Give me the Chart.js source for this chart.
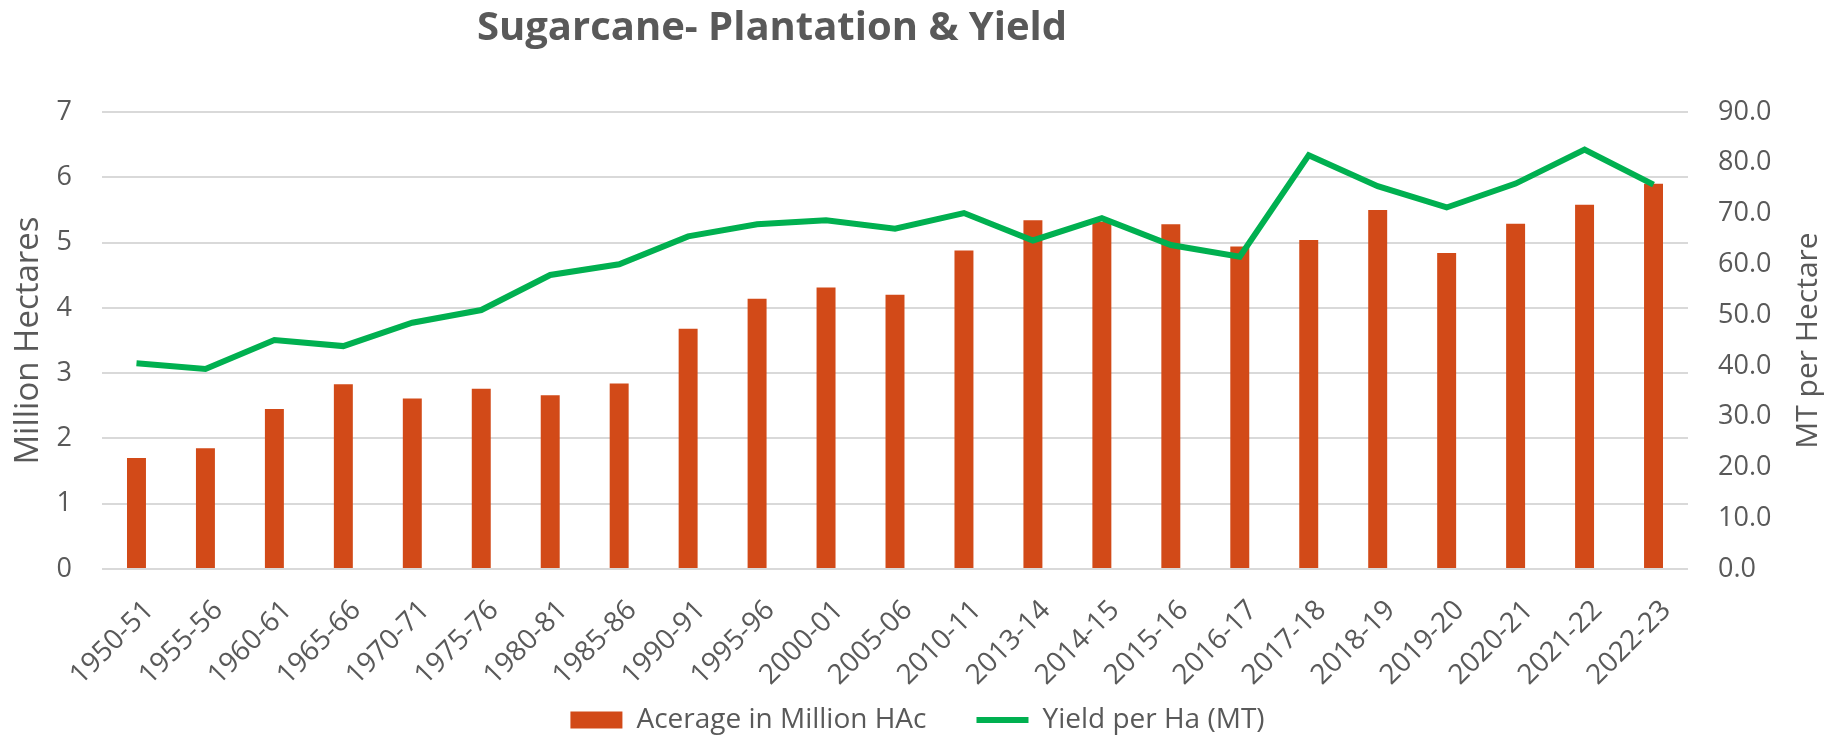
<!DOCTYPE html>
<html>
<head>
<meta charset="utf-8">
<script src="https://cdn.jsdelivr.net/npm/chart.js@4.4.0/dist/chart.umd.min.js"></script>
<style>
  html, body { margin: 0; background: #fff; }
  #wrap { width: 1835px; height: 737px; }
</style>
</head>
<body>
<div id="wrap"><canvas id="sugarChart"></canvas></div>
<script>
const years = ["1950-51", "1955-56", "1960-61", "1965-66", "1970-71", "1975-76", "1980-81", "1985-86",
  "1990-91", "1995-96", "2000-01", "2005-06", "2010-11", "2013-14", "2014-15", "2015-16", "2016-17",
  "2017-18", "2018-19", "2019-20", "2020-21", "2021-22", "2022-23"];
const acreage = [1.70, 1.85, 2.45, 2.83, 2.61, 2.76, 2.66, 2.84, 3.68, 4.14, 4.31, 4.20, 4.88,
  5.34, 5.32, 5.28, 4.94, 5.04, 5.50, 4.84, 5.29, 5.58, 5.90];
const yieldPerHa = [40.5, 39.4, 45.1, 43.9, 48.5, 51.0, 57.9, 60.0, 65.5, 67.9, 68.7, 67.0, 70.1,
  64.7, 69.1, 63.8, 61.5, 81.5, 75.4, 71.2, 75.9, 82.6, 75.7];

const GREY = "#595959";
const FONT = "'Open Sans', sans-serif";

// titulo y eje derecho dibujados a mano (posicion / rotacion como en el original)
const extraText = {
  id: "extraText",
  afterLayout(chart) {
    // las etiquetas del eje x se recortan a la caja del eje; la alargamos hasta abajo
    chart.scales.x.bottom = chart.height;
  },
  afterDraw(chart) {
    const c = chart.ctx;
    const area = chart.chartArea;
    c.save();
    c.fillStyle = GREY;
    c.font = "bold 40px 'Liberation Sans Narrow', " + FONT;
    c.textAlign = "center";
    c.textBaseline = "middle";
    c.fillText("Sugarcane- Plantation & Yield", 772, 29);
    c.translate(1808, (area.top + area.bottom) / 2);
    c.rotate(-Math.PI / 2);
    c.font = "30px " + FONT;
    c.fillText("MT per Hectare", 0, 0);
    c.restore();
  }
};

const ctx = document.getElementById("sugarChart").getContext("2d");
new Chart(ctx, {
  type: "bar",
  data: {
    labels: years,
    datasets: [
      {
        label: "Acerage in Million HAc",
        data: acreage,
        backgroundColor: "#d24a18",
        yAxisID: "y",
        order: 1,
        pointStyle: "rect",
        categoryPercentage: 1,
        barPercentage: 0.275
      },
      {
        type: "line",
        label: "Yield per Ha (MT)",
        data: yieldPerHa,
        borderColor: "#00b050",
        backgroundColor: "#00b050",
        borderWidth: 6,
        tension: 0,
        pointRadius: 0,
        pointStyle: "line",
        yAxisID: "y2",
        order: 0
      }
    ]
  },
  options: {
    responsive: true,
    maintainAspectRatio: false,
    animation: false,
    layout: { padding: { top: 112, bottom: -7 } },
    scales: {
      x: {
        grid: { display: false },
        border: { display: false },
        ticks: { color: GREY, font: { family: FONT, size: 28 }, minRotation: 45, maxRotation: 45,
          padding: 17, labelOffset: 13 },
        afterFit: s => { s.height = 87; }
      },
      y: {
        position: "left",
        min: 0, max: 7,
        ticks: { stepSize: 1, color: GREY, font: { family: FONT, size: 27 }, padding: 30 },
        grid: { color: "#d9d9d9", lineWidth: 2, drawTicks: false },
        border: { display: false },
        title: { display: true, text: "Million Hectares", color: GREY,
          font: { family: FONT, size: 33 }, padding: { top: 9, bottom: 0 } },
        afterFit: s => { s.width = 102; }
      },
      y2: {
        position: "right",
        min: 0, max: 90,
        ticks: { stepSize: 10, color: GREY, font: { family: FONT, size: 27 }, padding: 30,
          callback: v => v.toFixed(1) },
        grid: { display: false, drawTicks: false },
        border: { display: false },
        afterFit: s => { s.width = 147; }
      }
    },
    plugins: {
      legend: {
        position: "bottom",
        labels: {
          usePointStyle: true,
          pointStyleWidth: 52,
          boxHeight: 17,
          color: GREY,
          font: { family: FONT, size: 28 },
          padding: 50,
          sort: (a, b) => a.datasetIndex - b.datasetIndex
        }
      },
      tooltip: { enabled: false }
    }
  },
  plugins: [extraText]
});
</script>
</body>
</html>
